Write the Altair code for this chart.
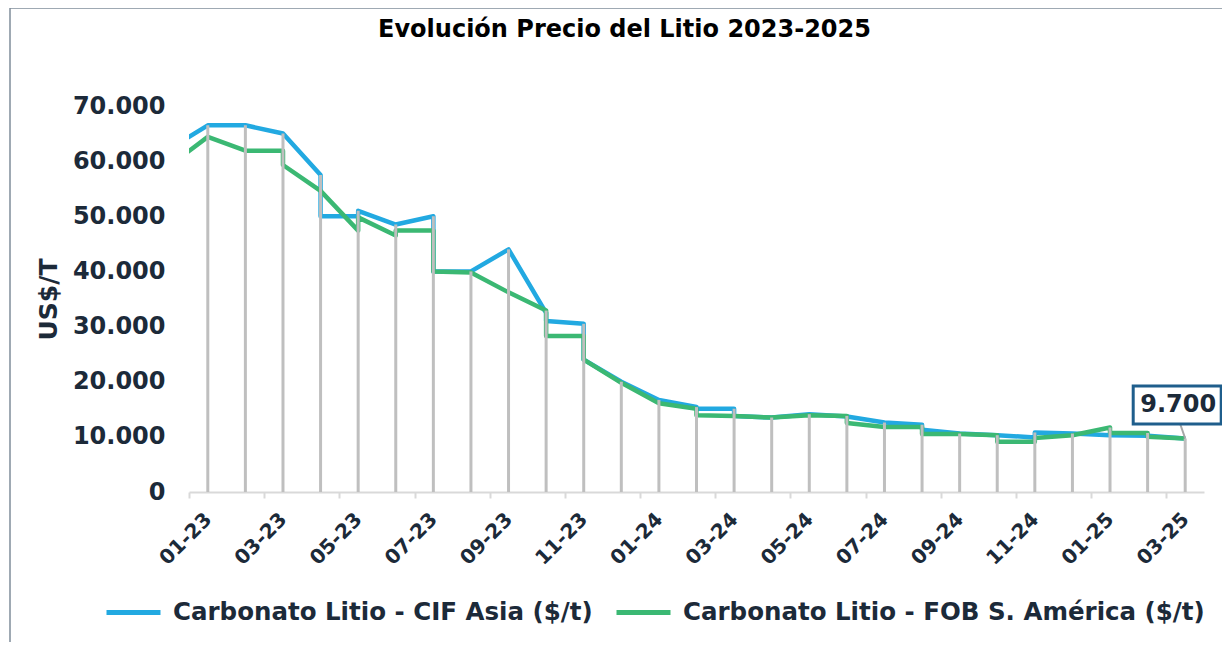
import altair as alt
import pandas as pd

months = ["01-23", "02-23", "03-23", "04-23", "05-23", "06-23", "07-23", "08-23", "09-23",
          "10-23", "11-23", "12-23", "01-24", "02-24", "03-24", "04-24", "05-24", "06-24",
          "07-24", "08-24", "09-24", "10-24", "11-24", "12-24", "01-25", "02-25", "03-25"]

# value carried from the month before the axis starts (12-22), clipped at the left edge
cif_prev = 62300
fob_prev = 59300

# one list per month; two values = price moved within the same month (vertical step)
cif_asia = [[66500], [66500], [65000], [57500, 50000], [50000, 51000], [48500],
            [50000, 40000], [40000], [44000], [32500, 31000], [30500, 24000], [20000],
            [16700], [15400, 15100], [15100, 13800], [13500], [14100], [13700],
            [12600], [12200, 11300], [10600], [10300], [9900, 10800], [10600],
            [10300], [10200], [9700]]
fob_sam = [[64400], [61900], [61900, 59300], [54600], [47400, 49800], [46500, 47400],
           [47400, 40000], [39800], [36200], [32900, 28300], [28300, 24000], [19800],
           [16100], [15100, 13900], [13800], [13500], [13900], [13800, 12500],
           [11800], [11800, 10500], [10500], [10300, 9100], [9100, 9800], [10300],
           [11700, 10700], [10700, 10000], [9700]]

series_names = ["Carbonato Litio - CIF Asia ($/t)", "Carbonato Litio - FOB S. América ($/t)"]
colors = ["#22a9e1", "#3bb873"]
y_ticks = [0, 10000, 20000, 30000, 40000, 50000, 60000, 70000]
title_text = "Evolución Precio del Litio 2023-2025"

rows = []
for name, prev, vals in zip(series_names, [cif_prev, fob_prev], [cif_asia, fob_sam]):
    seq = 0
    rows.append(dict(serie=name, m=-1, v=prev, seq=seq))
    for i, group in enumerate(vals):
        for v in group:
            seq += 1
            rows.append(dict(serie=name, m=i, v=v, seq=seq))
df = pd.DataFrame(rows)

W, H = 1015, 386
PAD_L, PAD_T, PAD_R, PAD_B = 181, 98, 18, 150
TXT = "#1c2a39"
FONT = "DejaVu Sans"

label_arr = "[" + ",".join("'%s'" % m for m in months) + "]"
x_enc = alt.X(
    "m:Q",
    title=None,
    scale=alt.Scale(domain=[-0.5, len(months) - 0.5], nice=False, zero=False),
    axis=alt.Axis(
        values=[i - 0.5 for i in range(0, len(months), 2)],
        labelExpr=label_arr + "[datum.value + 0.5]",
        labelAngle=-45,
        labelAlign="right",
        labelBaseline="middle",
        labelOffset=19,
        labelPadding=18,
        labelFontSize=20,
        labelFont=FONT,
        labelFontWeight="bold",
        labelColor=TXT,
        tickSize=6,
        tickWidth=2,
        tickColor="#d9d9d9",
        domainColor="#d9d9d9",
        domainWidth=2,
        grid=False,
        labelOverlap=False,
        labelBound=False,
    ),
)
y_enc = alt.Y(
    "v:Q",
    title="US$/T",
    scale=alt.Scale(domain=[0, 70000], nice=False),
    axis=alt.Axis(
        values=y_ticks,
        labelExpr="replace(format(datum.value, ',.0f'), ',', '.')",
        labelFontSize=24,
        labelFont=FONT,
        labelFontWeight="bold",
        labelColor=TXT,
        labelPadding=24,
        ticks=False,
        domain=False,
        grid=False,
        titleFontSize=25,
        titleFont=FONT,
        titleFontWeight="bold",
        titleColor=TXT,
        titleX=-141,
        titleY=H / 2,
        titleAngle=-90,
        titleAlign="center",
        titleBaseline="middle",
    ),
)

base = alt.Chart(df)
one = alt.Data(values=[{}])

# outer frame: only its left and top edges fall inside the window
frame_left = alt.Chart(one).mark_rule(color="#7f8c9a", strokeWidth=1.5, clip=False).encode(
    x=alt.value(-PAD_L + 2), y=alt.value(-PAD_T), y2=alt.value(H + PAD_B)
)
frame_top = alt.Chart(one).mark_rule(color="#7f8c9a", strokeWidth=1.5, clip=False).encode(
    x=alt.value(-PAD_L + 2), x2=alt.value(W + PAD_R), y=alt.value(-PAD_T)
)

title = alt.Chart(one).mark_text(
    fontSize=24, font=FONT, fontWeight="bold", color="black",
    align="center", baseline="alphabetic", clip=False
).encode(x=alt.value(435.5), y=alt.value(-69), text=alt.value(title_text))

lines = base.mark_line(strokeWidth=4.5, clip=True, strokeJoin="round").encode(
    x=x_enc,
    y=y_enc,
    order="seq:Q",
    color=alt.Color(
        "serie:N",
        scale=alt.Scale(domain=series_names, range=colors),
        legend=alt.Legend(
            title=None,
            orient="none",
            legendX=-85,
            legendY=477,
            direction="horizontal",
            symbolType="stroke",
            symbolSize=2916,
            symbolStrokeWidth=5,
            labelFontSize=24.5,
            labelFont=FONT,
            labelFontWeight="bold",
            labelColor=TXT,
            labelLimit=800,
            labelOffset=10,
            columnPadding=13,
        ),
    ),
)

drops = base.transform_filter("datum.m >= 0").transform_aggregate(
    v="max(v)", groupby=["m"]
).mark_rule(color="#bfbfbf", strokeWidth=3).encode(x=x_enc, y=y_enc, y2=alt.datum(0))

last = base.transform_filter(
    "datum.m == %d && datum.serie == '%s'" % (len(months) - 1, series_names[1])
).transform_calculate(lbl="replace(format(datum.v, ',.0f'), ',', '.')")

box_path = "M-1.1818,-1.1932L0.8182,-1.1932L0.8182,-0.3296L-1.1818,-0.3296Z"
leader_path = "M-0.1136,-0.3296L0,0"

leader = last.mark_point(
    shape=leader_path, size=7744, filled=False, color="#a6a6a6", strokeWidth=2, opacity=1
).encode(x=x_enc, y=y_enc)
box = last.mark_point(
    shape=box_path, size=7744, fill="white", stroke="#1f5e8c", strokeWidth=3,
    opacity=1, fillOpacity=1, strokeOpacity=1
).encode(x=x_enc, y=y_enc)
label = last.mark_text(
    dx=-7, dy=-33.5, align="center", baseline="middle", fontSize=24,
    font=FONT, fontWeight="bold", color=TXT
).encode(x=x_enc, y=y_enc, text="lbl:N")

chart = alt.layer(frame_left, frame_top, title, lines, drops, leader, box, label).properties(
    width=W,
    height=H,
    autosize=alt.AutoSizeParams(type="none"),
    padding={"left": PAD_L, "top": PAD_T, "right": PAD_R, "bottom": PAD_B},
).configure_view(strokeWidth=0)

chart.save("out.html", embed_options={"renderer": "svg", "actions": False})
